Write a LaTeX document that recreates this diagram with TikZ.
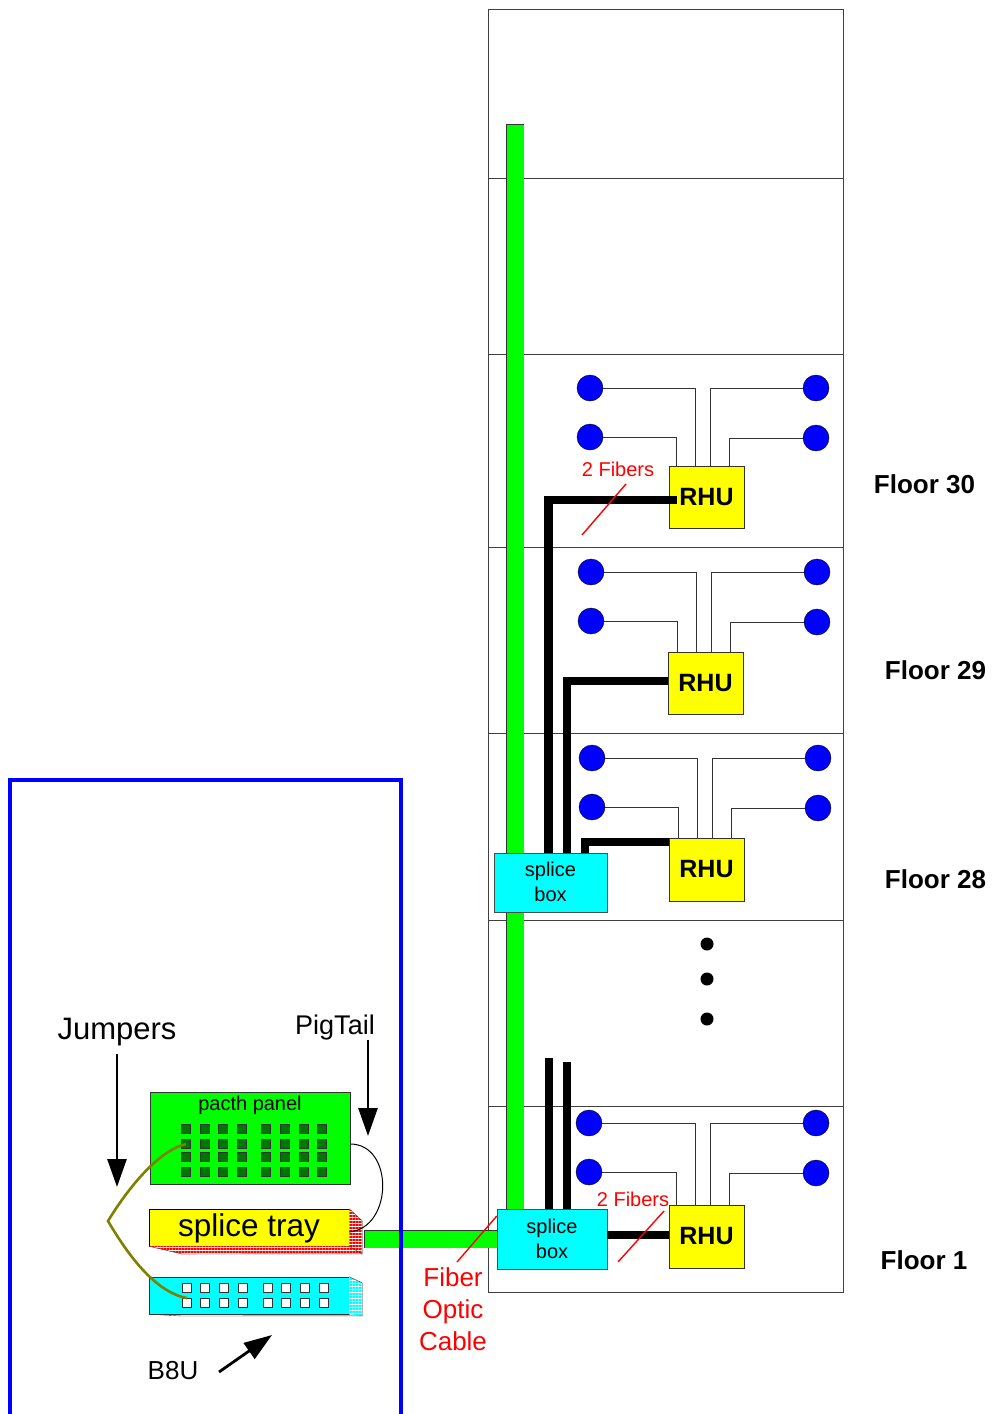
\documentclass[tikz,border=0pt]{standalone}
\usepackage{fontspec}
\setmainfont{Liberation Sans}
\usetikzlibrary{arrows.meta,patterns.meta,positioning}
\definecolor{pureyellow}{RGB}{255,255,0}
\definecolor{purecyan}{RGB}{0,255,255}
\definecolor{puregreen}{RGB}{0,255,0}
\definecolor{pureblue}{RGB}{0,0,255}
\definecolor{purered}{RGB}{255,0,0}
\definecolor{portgreen}{RGB}{0,120,0}
\definecolor{jumpercolor}{RGB}{128,128,0}

\begin{document}
\begin{tikzpicture}[x=1pt, y=-1pt,
    building/.style={draw=black!75, line width=0.8pt},
    rhubox/.style={rectangle, draw=black!80, fill=pureyellow, minimum width=75pt, minimum height=62pt, inner sep=0pt, font=\fontsize{25}{25}\selectfont\bfseries},
    splicebox/.style={rectangle, draw=black!70, fill=purecyan, minimum width=113pt, minimum height=59pt, inner sep=0pt, align=center, font=\fontsize{20}{25}\selectfont},
    lamp/.style={circle, draw=black, fill=pureblue, minimum size=26pt, inner sep=0pt},
    wire/.style={draw=black!80, line width=1pt},
    fiber/.style={draw=black!80, line width=0.7pt, double=puregreen, double distance=17pt},
    fiberend/.style={draw=black!80, line width=0.7pt},
    thickfiber/.style={black, line width=8.5pt},
    redmark/.style={purered, line width=1.4pt},
    redtext/.style={purered, inner sep=0pt, font=\fontsize{20}{20}\selectfont},
    floorlabel/.style={inner sep=0pt, font=\fontsize{26}{26}\selectfont\bfseries},
    note/.style={inner sep=0pt, font=\fontsize{26}{26}\selectfont},
    pointer/.style={line width=2.8pt, -{Triangle[length=28pt, width=19pt]}},
    darkport/.style={rectangle, draw=black!80, line width=0.6pt, fill=portgreen, minimum size=9pt, inner sep=0pt},
    whiteport/.style={rectangle, draw=black!80, line width=0.8pt, fill=white, minimum size=9pt, inner sep=0pt},
    dotmark/.style={circle, fill=black, minimum size=13pt, inner sep=0pt}]

    \useasboundingbox (0,0) rectangle (994,1414);

    % Building
    \node [rectangle, building, minimum width=355pt, minimum height=1283pt, inner sep=0pt] (building) at (666,650.5) {};
    \foreach \fy in {178,354,547,733,920,1106}
        \draw[building] (building.west |- 0,\fy) -- (building.east |- 0,\fy);

    % Green riser and feed
    \coordinate (risertop) at (515,124);
    \coordinate (feedend) at (364,1239);
    \coordinate (riserend) at (515,1210);
    \coordinate (feedstop) at (497,1239);
    \draw[fiber] (risertop) -- (riserend);
    \draw[fiberend] ([xshift=-9pt]risertop) -- ([xshift=9pt]risertop);
    \draw[fiber] (feedend) -- (feedstop);
    \draw[fiberend] ([yshift=9pt]feedend) -- ([yshift=-9pt]feedend);

    % Boxes
    \node [splicebox] (boxup) at (550.5,882.5) {\raisebox{1.5pt}{splice}\\\raisebox{1.5pt}{box}};
    \node [splicebox, minimum width=110pt, minimum height=60pt] (boxlow) at (552,1239) {splice\\box};
    \node [rhubox] (rhu30) at (706.5,497.5) {RHU};
    \node [rhubox] (rhu29) at (705.5,683) {RHU};
    \node [rhubox, minimum height=63pt] (rhu28) at (706.5,869.5) {RHU};
    \node [rhubox, minimum height=63pt] (rhu1) at (706.5,1236.5) {RHU};

    % Lamps
    \node [lamp] (l30a) at (590,388) {};
    \node [lamp] (l30b) at (590,437) {};
    \node [lamp] (l30c) at (816,388) {};
    \node [lamp] (l30d) at (816,438) {};
    \node [lamp] (l29a) at (591,572) {};
    \node [lamp] (l29b) at (591,621) {};
    \node [lamp] (l29c) at (817,572) {};
    \node [lamp] (l29d) at (817,622) {};
    \node [lamp] (l28a) at (592,758) {};
    \node [lamp] (l28b) at (592,807) {};
    \node [lamp] (l28c) at (818,758) {};
    \node [lamp] (l28d) at (818,808) {};
    \node [lamp] (l1a) at (589,1123) {};
    \node [lamp] (l1b) at (589,1172) {};
    \node [lamp] (l1c) at (816,1123) {};
    \node [lamp] (l1d) at (816,1173) {};

    % Lamp wiring
    \draw[wire] (l30a.east) -| ([xshift=-11.5pt]rhu30.north);
    \draw[wire] (l30b.east) -| ([xshift=-30.5pt]rhu30.north);
    \draw[wire] (l30c.west) -| ([xshift=3.5pt]rhu30.north);
    \draw[wire] (l30d.west) -| ([xshift=22.5pt]rhu30.north);
    \draw[wire] (l29a.east) -| ([xshift=-9.5pt]rhu29.north);
    \draw[wire] (l29b.east) -| ([xshift=-28.5pt]rhu29.north);
    \draw[wire] (l29c.west) -| ([xshift=5.5pt]rhu29.north);
    \draw[wire] (l29d.west) -| ([xshift=24.5pt]rhu29.north);
    \draw[wire] (l28a.east) -| ([xshift=-9.5pt]rhu28.north);
    \draw[wire] (l28b.east) -| ([xshift=-28.5pt]rhu28.north);
    \draw[wire] (l28c.west) -| ([xshift=5.5pt]rhu28.north);
    \draw[wire] (l28d.west) -| ([xshift=24.5pt]rhu28.north);
    \draw[wire] (l1a.east) -| ([xshift=-11.5pt]rhu1.north);
    \draw[wire] (l1b.east) -| ([xshift=-30.5pt]rhu1.north);
    \draw[wire] (l1c.west) -| ([xshift=3.5pt]rhu1.north);
    \draw[wire] (l1d.west) -| ([xshift=22.5pt]rhu1.north);

    % Thick fibers
    \draw[thickfiber] ([xshift=8pt, yshift=-2.5pt]rhu30.west) -| ([xshift=-2pt]boxup.north);
    \draw[thickfiber] ([yshift=2pt]rhu29.west) -| ([xshift=16.5pt]boxup.north);
    \draw[thickfiber] ([yshift=27.5pt]rhu28.west) -| ([xshift=34.5pt]boxup.north);
    \coordinate (stubA) at (549,1058);
    \coordinate (stubB) at (567,1062);
    \draw[thickfiber] (stubA) -- (stubA |- boxlow.north);
    \draw[thickfiber] (stubB) -- (stubB |- boxlow.north);
    \draw[thickfiber] ([yshift=4pt]boxlow.east) -- ([yshift=1.5pt]rhu1.west);

    % Red marks
    \coordinate (mark30a) at (626,484);
    \coordinate (mark30b) at (582,535);
    \coordinate (mark1a) at (664,1211);
    \coordinate (mark1b) at (618,1262);
    \coordinate (markcable) at (457,1262);
    \draw[redmark] (mark30a) -- (mark30b);
    \draw[redmark] (mark1a) -- (mark1b);
    \draw[redmark] (markcable) -- ([yshift=23pt]boxlow.west);
    \node [redtext] (fib30) at (618,469) {2 Fibers};
    \node [redtext] (fib1) at (633,1199) {2 Fibers};
    \node [redtext, align=center, font=\fontsize{26}{32}\selectfont] (cable) at (453,1309) {Fiber\\Optic\\Cable};

    % Dots
    \node [dotmark] (dot1) at (707,944) {};
    \node [dotmark] (dot2) at (707,979) {};
    \node [dotmark] (dot3) at (707,1019) {};

    % Floor labels
    \node [floorlabel] (f30) at (924.5,484) {Floor 30};
    \node [floorlabel] (f29) at (935.5,670) {Floor 29};
    \node [floorlabel] (f28) at (935.5,879) {Floor 28};
    \node [floorlabel] (f1) at (924,1260) {Floor 1};

    % Patch panel
    \node [rectangle, draw=black!80, fill=puregreen, minimum width=200pt, minimum height=92pt, inner sep=0pt] (panel) at (250,1138) {};
    \node [inner sep=0pt, font=\fontsize{20}{20}\selectfont] (paneltext) at (250,1105) {pacth panel};
    \foreach \cx [count=\ci] in {186,205,223,242,266,285,304,322}
        \foreach \ry [count=\ri] in {1129,1144,1157,1172}
            \node [darkport] (pp\ri-\ci) at (\cx,\ry) {};

    % Splice tray
    \node [rectangle, draw=black, fill=pureyellow, minimum width=200pt, minimum height=37pt, inner sep=0pt, text depth=5pt, font=\fontsize{31.5}{31.5}\selectfont] (tray) at (249,1227.5) {splice tray};
    \fill[white] (tray.north east) -- ++(13,12) -- ++(0,33) -- (182,1254) -- (tray.south west) -- (tray.south east) -- cycle;
    \fill[pattern={Lines[angle=0, distance=3pt, line width=1.6pt]}, pattern color=purered] (tray.north east) -- ++(13,12) -- ++(0,33) -- (182,1254) -- (tray.south west) -- (tray.south east) -- cycle;
    \draw[black!80] (tray.north east) -- ++(13,12) -- ++(0,33) -- (182,1254) -- (tray.south west);
    \draw[black!80] (tray.south east) -- ++(13,8);

    % B8U unit
    \node [rectangle, draw=black!80, fill=purecyan, minimum width=200pt, minimum height=37pt, inner sep=0pt] (bunit) at (249,1295.5) {};
    \fill[white] (bunit.north east) -- ++(13,6) -- ++(0,33) -- (bunit.south east) -- cycle;
    \fill[pattern={Lines[angle=0, distance=3pt, line width=1.4pt]}, pattern color=purecyan] (bunit.north east) -- ++(13,6) -- ++(0,33) -- (bunit.south east) -- cycle;
    \draw[black!80] (bunit.north east) -- ++(13,6) -- ++(0,33) -- (182,1316) -- (bunit.south west);
    \foreach \cx [count=\ci] in {187,205,224,243,268,286,305,324}
        \foreach \ry [count=\ri] in {1288,1303}
            \node [whiteport] (bp\ri-\ci) at (\cx,\ry) {};

    % Pigtail and jumpers
    \coordinate (jumperbend) at (108,1221);
    \draw[black, line width=1pt] ([yshift=-6pt]panel.east) .. controls +(44,0) and +(44,-4) .. ([yshift=-4.5pt]tray.east);
    \draw[jumpercolor, line width=2.6pt] (pp2-1.center) .. controls (160,1150) and (130,1185) .. (jumperbend) .. controls (128,1255) and (155,1292) .. (bp2-1.north);

    % Labels and pointers
    \node [note, font=\fontsize{31}{31}\selectfont] (jumpers) at (117,1032) {Jumpers};
    \node [note, font=\fontsize{27}{27}\selectfont] (pigtail) at (335,1028) {PigTail};
    \node [note] (b8u) at (173,1371) {B8U};
    \coordinate (jumptail) at (117,1054);
    \coordinate (jumptip) at (117,1187);
    \coordinate (pigtail1) at (368,1040);
    \coordinate (pigtip) at (368,1136);
    \coordinate (b8utail) at (219,1372);
    \coordinate (b8utip) at (272,1335);
    \draw[pointer] (jumptail) -- (jumptip);
    \draw[pointer] (pigtail1) -- (pigtip);
    \draw[pointer] (b8utail) -- (b8utip);

    % Blue frame
    \draw[pureblue, line width=3.6pt] (10,1414) -- (10,780) -- (401,780) -- (401,1414);

\end{tikzpicture}
\end{document}
